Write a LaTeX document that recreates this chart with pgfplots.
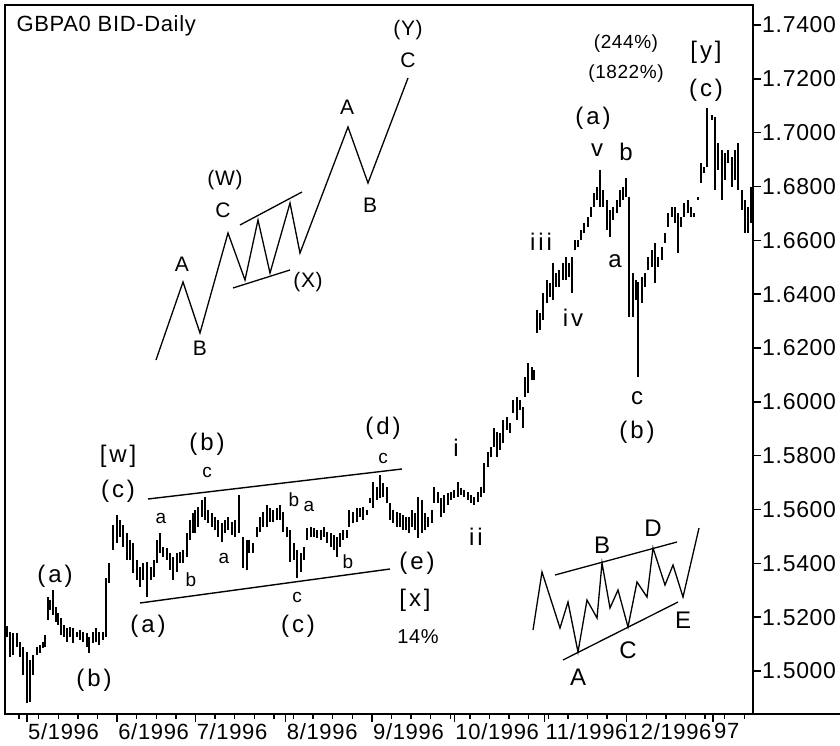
\documentclass[border=0pt]{standalone}
\usepackage{pgfplots}
\pgfplotsset{compat=1.18}
\usepackage{pgfplotstable}
\usepackage{fontspec}
\setmainfont{Liberation Sans}[LetterSpace=3]
\newfontfamily\lsfont{Liberation Sans}[LetterSpace=12]
\newcommand\fa{\lsfont\fontsize{24}{24}\selectfont}
\newcommand\fb{\fontsize{19}{19}\selectfont}
\newcommand\fc{\fontsize{21}{21}\selectfont}
\newcommand\fd{\fontsize{24}{24}\selectfont}

% daily bars: trading day (0 = 1 May 1996), high, low
\pgfplotstableread{
d hi lo
-5.1 1.5167 1.5126
-4.3 1.5145 1.5052
-3.6 1.5141 1.5059
-2.6 1.5141 1.5089
-1.8 1.5108 1.5052
-1.0 1.5089 1.4985
0.0 1.5071 1.4881
0.8 1.5041 1.4885
1.5 1.5059 1.4985
2.6 1.5089 1.5059
3.3 1.5097 1.5067
4.1 1.5108 1.5085
4.6 1.5134 1.5089
5.4 1.5275 1.5189
5.9 1.5264 1.5227
6.6 1.5301 1.5208
7.4 1.5238 1.5182
7.9 1.5215 1.5171
8.7 1.5197 1.5134
9.4 1.5171 1.5126
10.2 1.5160 1.5108
11.0 1.5163 1.5126
11.7 1.5160 1.5104
12.8 1.5145 1.5126
13.5 1.5152 1.5115
14.3 1.5145 1.5108
15.3 1.5141 1.5089
15.8 1.5126 1.5067
16.8 1.5145 1.5104
17.6 1.5160 1.5108
18.4 1.5145 1.5097
19.4 1.5145 1.5115
20.2 1.5345 1.5126
20.9 1.5401 1.5327
21.9 1.5542 1.5450
23.0 1.5580 1.5476
23.7 1.5561 1.5498
24.5 1.5542 1.5461
25.5 1.5513 1.5412
26.3 1.5487 1.5412
27.0 1.5476 1.5364
28.1 1.5412 1.5338
28.8 1.5386 1.5312
29.6 1.5401 1.5338
30.6 1.5405 1.5275
31.6 1.5386 1.5338
32.4 1.5412 1.5349
33.2 1.5487 1.5401
33.9 1.5513 1.5438
34.7 1.5461 1.5424
35.7 1.5457 1.5412
36.5 1.5438 1.5375
37.2 1.5424 1.5338
38.3 1.5438 1.5368
39.0 1.5442 1.5401
39.8 1.5450 1.5401
40.8 1.5513 1.5424
41.6 1.5561 1.5487
42.3 1.5587 1.5513
42.9 1.5598 1.5513
43.6 1.5609 1.5535
44.6 1.5635 1.5572
45.4 1.5646 1.5561
46.2 1.5598 1.5550
47.2 1.5587 1.5535
48.0 1.5572 1.5524
48.7 1.5561 1.5498
49.7 1.5550 1.5479
50.5 1.5561 1.5513
51.3 1.5572 1.5524
52.3 1.5554 1.5505
53.1 1.5561 1.5498
54.1 1.5654 1.5513
55.1 1.5498 1.5383
56.1 1.5487 1.5375
56.6 1.5487 1.5438
57.7 1.5476 1.5438
58.7 1.5535 1.5498
59.4 1.5572 1.5516
60.2 1.5591 1.5535
61.2 1.5617 1.5535
62.0 1.5606 1.5554
62.8 1.5598 1.5554
63.8 1.5606 1.5561
64.5 1.5617 1.5561
65.3 1.5591 1.5516
66.3 1.5535 1.5498
67.1 1.5524 1.5405
68.1 1.5476 1.5412
68.9 1.5450 1.5345
69.9 1.5438 1.5368
70.7 1.5461 1.5412
71.4 1.5531 1.5487
72.4 1.5535 1.5498
73.2 1.5531 1.5498
74.0 1.5524 1.5494
75.0 1.5524 1.5487
75.8 1.5535 1.5498
76.5 1.5516 1.5476
77.6 1.5513 1.5461
78.3 1.5505 1.5450
79.1 1.5498 1.5424
79.8 1.5513 1.5461
80.6 1.5524 1.5487
81.6 1.5524 1.5494
82.1 1.5598 1.5535
83.2 1.5591 1.5550
84.2 1.5606 1.5554
84.9 1.5606 1.5572
85.7 1.5609 1.5561
86.7 1.5598 1.5580
87.5 1.5643 1.5624
88.3 1.5702 1.5606
89.3 1.5684 1.5635
90.1 1.5728 1.5643
90.8 1.5698 1.5646
91.8 1.5684 1.5624
92.6 1.5624 1.5561
93.4 1.5598 1.5550
94.4 1.5591 1.5535
95.2 1.5587 1.5535
95.9 1.5580 1.5524
96.7 1.5572 1.5524
97.4 1.5572 1.5513
98.2 1.5598 1.5535
99.0 1.5587 1.5524
99.7 1.5646 1.5494
100.8 1.5635 1.5513
101.5 1.5587 1.5524
102.3 1.5572 1.5535
103.3 1.5598 1.5550
103.8 1.5684 1.5624
104.8 1.5665 1.5624
105.6 1.5643 1.5572
106.4 1.5654 1.5587
107.4 1.5661 1.5617
108.2 1.5665 1.5635
108.9 1.5672 1.5643
109.9 1.5702 1.5646
110.7 1.5680 1.5654
111.5 1.5672 1.5646
112.5 1.5665 1.5635
113.3 1.5654 1.5624
114.0 1.5646 1.5617
115.1 1.5665 1.5628
115.8 1.5684 1.5646
116.6 1.5773 1.5661
117.6 1.5814 1.5758
118.4 1.5832 1.5795
119.1 1.5903 1.5832
119.9 1.5888 1.5795
120.7 1.5884 1.5821
121.4 1.5932 1.5847
122.4 1.5944 1.5895
123.2 1.5921 1.5884
124.0 1.6007 1.5958
125.0 1.6018 1.5932
125.8 1.6007 1.5970
126.5 1.5981 1.5903
127.0 1.6092 1.6018
127.8 1.6144 1.6033
128.8 1.6129 1.6081
129.3 1.6118 1.6081
130.1 1.6341 1.6256
130.9 1.6330 1.6267
131.6 1.6404 1.6304
132.7 1.6453 1.6367
133.4 1.6441 1.6389
134.2 1.6516 1.6378
134.9 1.6479 1.6427
135.7 1.6490 1.6427
136.7 1.6516 1.6453
137.5 1.6538 1.6453
138.3 1.6516 1.6464
139.0 1.6538 1.6404
139.8 1.6601 1.6564
140.6 1.6601 1.6575
141.3 1.6638 1.6601
142.1 1.6664 1.6627
143.1 1.6687 1.6649
143.9 1.6724 1.6687
144.6 1.6776 1.6724
145.4 1.6798 1.6750
146.2 1.6861 1.6724
146.9 1.6787 1.6724
147.9 1.6750 1.6638
148.7 1.6713 1.6612
149.5 1.6724 1.6675
150.5 1.6750 1.6701
151.3 1.6787 1.6724
152.0 1.6798 1.6750
152.8 1.6831 1.6761
153.6 1.6761 1.6315
154.6 1.6479 1.6315
155.4 1.6453 1.6378
155.9 1.6445 1.6092
156.9 1.6464 1.6367
157.7 1.6479 1.6427
158.4 1.6538 1.6490
159.4 1.6564 1.6501
160.2 1.6590 1.6441
161.0 1.6538 1.6501
162.0 1.6575 1.6527
162.8 1.6627 1.6590
163.5 1.6701 1.6649
164.5 1.6724 1.6687
165.3 1.6724 1.6664
166.1 1.6701 1.6553
166.8 1.6687 1.6649
167.6 1.6739 1.6687
168.6 1.6750 1.6701
169.4 1.6724 1.6687
170.2 1.6701 1.6687
171.2 1.6761 1.6750
172.0 1.6887 1.6813
172.7 1.6872 1.6850
173.5 1.7092 1.6872
174.7 1.7066 1.7047
175.5 1.7058 1.6787
176.3 1.6962 1.6861
177.3 1.6936 1.6750
178.1 1.6924 1.6824
178.8 1.6936 1.6887
179.8 1.6910 1.6798
180.6 1.6936 1.6824
181.4 1.6962 1.6787
182.4 1.6787 1.6713
183.2 1.6750 1.6627
183.9 1.6724 1.6627
184.7 1.6798 1.6664
}\bars

\begin{document}
\begin{tikzpicture}
\path[use as bounding box] (0,0) rectangle (840pt,746pt);
\begin{axis}[
    at={(5pt,32pt)}, anchor=south west,
    scale only axis, width=748pt, height=709pt,
    xmin=-5.61, xmax=185.2, ymin=1.48403, ymax=1.74742,
    axis line style={line width=2pt},
    xtick={0,23,43,66,88,109,132,153,175},
    xticklabels={5/1996,6/1996,7/1996,8/1996,9/1996,10/1996,11/1996,12/1996,97},
    minor xtick={-2,3,8,13,18,28,33,38,48,53,58,63,68,73,78,83,93,98,103,108,113,118,123,128,133,138,143,148,158,163,168,173,178,183},
    ytick={1.50,1.52,...,1.741},
    yticklabels={1.5000,1.5200,1.5400,1.5600,1.5800,1.6000,1.6200,1.6400,1.6600,1.6800,1.7000,1.7200,1.7400},
    xtick pos=bottom, ytick pos=right, yticklabel pos=right,
    tick align=outside, major tick length=8pt, minor tick length=5pt,
    tick style={line width=1.4pt, black},
    xticklabel style={font=\fontsize{22}{22}\selectfont, anchor=north west, inner sep=1pt},
    yticklabel style={font=\fontsize{23}{23}\selectfont, anchor=west, inner sep=1pt},
  ]
  \addplot[draw=none, mark=none, forget plot,
    error bars/.cd, y dir=plus, y explicit, error mark=none,
    error bar style={line width=1.9pt, draw=black, solid}]
    table[x=d, y=lo, y error expr=\thisrow{hi}-\thisrow{lo}] {\bars};
\end{axis}
% annotations in picture pixels (y down)
\begin{axis}[
    at={(0pt,0pt)}, anchor=south west,
    scale only axis, width=840pt, height=746pt,
    xmin=0, xmax=840, ymin=0, ymax=746, y dir=reverse,
    hide axis, clip=false,
  ]
  \addplot[line width=2pt] coordinates {(753,714) (840,714)};
  % triangle channel
  \addplot[line width=1.4pt] coordinates {(148,499) (402,469)};
  \addplot[line width=1.4pt] coordinates {(140,603) (390,569)};
  % inset: double zigzag
  \addplot[line width=1.3pt] coordinates {(156,360) (183,282) (200,333) (228,233) (245,280) (258,220) (270,273) (290,203) (300,253) (348,127) (368,183) (408,78)};
  \addplot[line width=1.3pt] coordinates {(240,225) (302,192)};
  \addplot[line width=1.3pt] coordinates {(233,288) (290,270)};
  % inset: triangle
  \addplot[line width=1.3pt] coordinates {(533,630) (542,572) (560,628) (568,602) (578,652) (587,600) (597,618) (602,563) (610,608) (618,590) (628,627) (637,582) (647,597) (653,548) (665,585) (673,565) (683,597) (699,528)};
  \addplot[line width=1.3pt] coordinates {(555,575) (677,542)};
  \addplot[line width=1.3pt] coordinates {(563,660) (678,602)};

  \node[anchor=west, font=\fontsize{22}{22}\selectfont] at (axis cs:13,26) {GBPA0 BID-Daily};

  \node[font=\fa] at (axis cs:55,576) {(a)};
  \node[font=\fa] at (axis cs:94,680) {(b)};
  \node[font=\fa] at (axis cs:148,626) {(a)};
  \node[font=\fa] at (axis cs:298,626) {(c)};
  \node[font=\fa] at (axis cs:118,456) {[w]};
  \node[font=\fa] at (axis cs:118,491) {(c)};
  \node[font=\fa] at (axis cs:207,444) {(b)};
  \node[font=\fa] at (axis cs:383,428) {(d)};
  \node[font=\fa] at (axis cs:417,563) {(e)};
  \node[font=\fa] at (axis cs:415,600) {[x]};
  \node[font=\fa] at (axis cs:456,448) {i};
  \node[font=\fa] at (axis cs:476,537) {ii};
  \node[font=\fa] at (axis cs:541,242) {iii};
  \node[font=\fa] at (axis cs:573,318) {iv};
  \node[font=\fa] at (axis cs:593,118) {(a)};
  \node[font=\fa] at (axis cs:597,150) {v};
  \node[font=\fa] at (axis cs:626,152) {b};
  \node[font=\fa] at (axis cs:615,261) {a};
  \node[font=\fa] at (axis cs:637,398) {c};
  \node[font=\fa] at (axis cs:637,432) {(b)};
  \node[font=\fa] at (axis cs:706,90) {(c)};
  \node[font=\fa] at (axis cs:706,52) {[y]};

  \node[font=\fb] at (axis cs:297,597) {c};
  \node[font=\fb] at (axis cs:191,580) {b};
  \node[font=\fb] at (axis cs:207,472) {c};
  \node[font=\fb] at (axis cs:161,518) {a};
  \node[font=\fb] at (axis cs:224,558) {a};
  \node[font=\fb] at (axis cs:294,500) {b};
  \node[font=\fb] at (axis cs:309,506) {a};
  \node[font=\fb] at (axis cs:348,562) {b};
  \node[font=\fb] at (axis cs:383,458) {c};
  \node[font=\fontsize{20}{20}\selectfont] at (axis cs:418,637) {14\%};
  \node[font=\fb] at (axis cs:626,44) {(244\%)};
  \node[font=\fb] at (axis cs:626,74) {(1822\%)};

  \node[font=\fc] at (axis cs:182,264) {A};
  \node[font=\fc] at (axis cs:200,348) {B};
  \node[font=\fc] at (axis cs:223,210) {C};
  \node[font=\fc] at (axis cs:225,180) {(W)};
  \node[font=\fc] at (axis cs:308,282) {(X)};
  \node[font=\fc] at (axis cs:347,107) {A};
  \node[font=\fc] at (axis cs:370,205) {B};
  \node[font=\fc] at (axis cs:408,60) {C};
  \node[font=\fc] at (axis cs:408,30) {(Y)};

  \node[font=\fd] at (axis cs:602,545) {B};
  \node[font=\fd] at (axis cs:653,528) {D};
  \node[font=\fd] at (axis cs:628,650) {C};
  \node[font=\fd] at (axis cs:683,620) {E};
  \node[font=\fd] at (axis cs:578,677) {A};
\end{axis}
\end{tikzpicture}
\end{document}
